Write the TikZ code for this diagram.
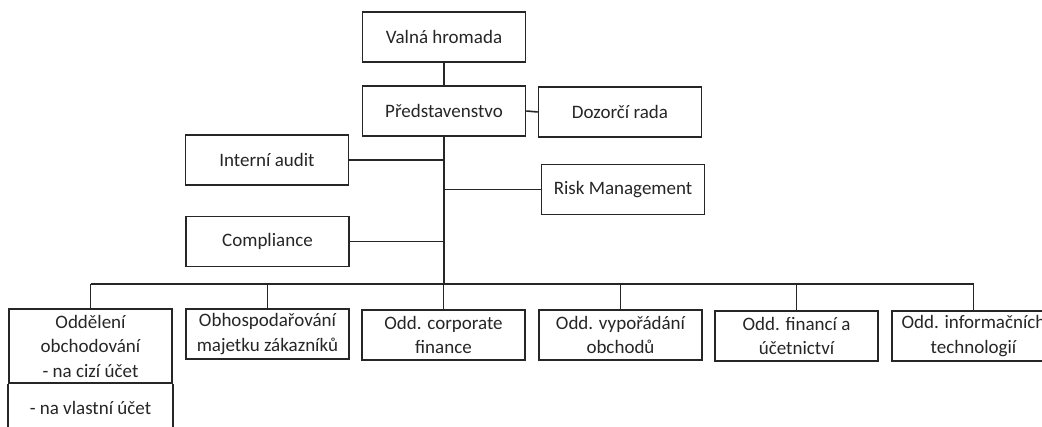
\documentclass[tikz,border=0pt]{standalone}
\usepackage{fontspec}
\setmainfont{Carlito}
\begin{document}
\begin{tikzpicture}[x=1pt,y=-1pt,
  txt/.style={font=\fontsize{19}{24.5}\selectfont, text=black!85, align=center},
  box/.style={txt, draw=black!85, line width=1.6pt, minimum width=163pt, minimum height=50pt, inner sep=1pt},
  conn/.style={draw=black!85, line width=1.6pt}]
\useasboundingbox (0,0) rectangle (1042,427);
\clip (0,0) rectangle (1042,427);
\fill[white] (0,0) rectangle (1042,427);
% top
\node[box] (vh) at (444,37) {Valná hromada};
\node[box] (pr) at (444,111) {Představenstvo};
\node[box] (dr) at (620,112) {Dozorčí rada};
\node[box] (ia) at (267,160) {Interní audit};
\node[box] (rm) at (623,189.5) {Risk Management};
\node[box] (co) at (267.5,241.5) {Compliance};
\coordinate (bus) at (444,284);
% departments
\node[box, minimum height=74pt] (od) at (90.5,346) {Oddělení\\obchodování\\- na cizí účet};
\node[txt] (od2) at (90.5,408) {- na vlastní účet};
\node[box] (ob) at (267.5,334) {Obhospodařování\\majetku zákazníků};
\node[box] (cf) at (443.5,335) {Odd. corporate\\finance};
\node[box] (vy) at (620.5,335) {Odd. vypořádání\\obchodů};
\node[box] (fi) at (796.5,336) {Odd. financí a\\účetnictví};
\node[box] (in) at (973.5,336) {Odd. informačních\\technologií};
% open lower part of first department box
\draw[conn] (od.south west) -- ++(0,60);
\draw[conn] (od.south east) -- ++(0,60);
% connectors
\draw[conn] (vh.south) -- (pr.north);
\draw[conn] (pr.east) -- (dr.west);
\draw[conn] (pr.south) -- (bus);
\draw[conn] (ia.east) -- (ia.east -| pr.south);
\draw[conn] (rm.west -| pr.south) -- (rm.west);
\draw[conn] (co.east) -- (co.east -| pr.south);
\draw[conn] (od.north |- bus) -- (in.north |- bus);
\foreach \n in {od,ob,cf,vy,fi,in} \draw[conn] (\n.north |- bus) -- (\n.north);
\end{tikzpicture}
\end{document}
